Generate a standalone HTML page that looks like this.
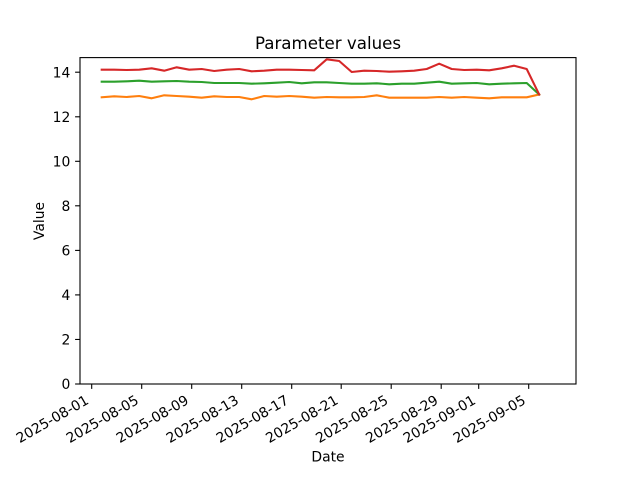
<!DOCTYPE html>
<html>
<head>
<meta charset="utf-8">
<style>
html,body{margin:0;padding:0;background:#fff;}
svg{display:block;}
text{font-family:"DejaVu Sans","Liberation Sans",sans-serif;fill:#000;}
</style>
</head>
<body>
<svg width="640" height="480" viewBox="0 0 640 480" xmlns="http://www.w3.org/2000/svg">
<rect x="0" y="0" width="640" height="480" fill="#fff"/>
<!-- series -->
<g fill="none" stroke-width="2.08" stroke-linejoin="round" stroke-linecap="square">
<polyline stroke="#ff7f0e" points="101.7,97.3 114.2,96.3 126.7,97 139.2,96 151.7,98.3 164.2,95.3 176.7,96 189.2,96.7 201.7,97.7 214.2,96.3 226.7,97 239.2,97 251.7,99.3 264.2,96 276.7,96.7 289.2,96 301.7,96.7 314.2,97.7 326.7,97 339.2,97.3 351.7,97.3 364.2,97 376.7,95.3 389.2,97.7 401.7,97.7 414.2,97.7 426.7,97.7 439.2,97 451.7,97.7 464.2,97 476.7,97.7 489.2,98.3 501.7,97.3 514.2,97.3 526.7,97.3 539.2,94.5"/>
<polyline stroke="#2ca02c" points="101.7,81.7 114.2,81.7 126.7,81.3 139.2,80.7 151.7,81.7 164.2,81.3 176.7,81 189.2,81.7 201.7,82 214.2,83 226.7,83 239.2,83 251.7,83.7 264.2,83.3 276.7,82.7 289.2,82 301.7,83.3 314.2,82.3 326.7,82.3 339.2,83 351.7,83.7 364.2,83.7 376.7,83.3 389.2,84.3 401.7,83.7 414.2,83.7 426.7,82.7 439.2,81.7 451.7,83.7 464.2,83.3 476.7,83 489.2,84.3 501.7,83.7 514.2,83.3 526.7,83 539.2,94.5"/>
<polyline stroke="#d62728" points="101.7,69.7 114.2,69.7 126.7,70 139.2,69.7 151.7,68.3 164.2,70.7 176.7,67.3 189.2,69.7 201.7,69 214.2,71 226.7,69.7 239.2,69 251.7,71.3 264.2,70.7 276.7,69.7 289.2,69.7 301.7,70 314.2,70.3 326.7,59.3 339.2,61 351.7,72 364.2,70.7 376.7,71 389.2,71.7 401.7,71.3 414.2,70.7 426.7,69 439.2,63.7 451.7,69 464.2,70 476.7,69.7 489.2,70.3 501.7,68.3 514.2,65.7 526.7,69 539.2,94.5"/>
</g>
<!-- axes frame -->
<rect x="80" y="57.6" width="496" height="326.4" fill="none" stroke="#000" stroke-width="1.1"/>
<!-- y ticks -->
<g stroke="#000" stroke-width="1.1">
<line x1="75.1" y1="384" x2="80" y2="384"/>
<line x1="75.1" y1="339.46" x2="80" y2="339.46"/>
<line x1="75.1" y1="294.9" x2="80" y2="294.9"/>
<line x1="75.1" y1="250.4" x2="80" y2="250.4"/>
<line x1="75.1" y1="205.8" x2="80" y2="205.8"/>
<line x1="75.1" y1="161.3" x2="80" y2="161.3"/>
<line x1="75.1" y1="116.8" x2="80" y2="116.8"/>
<line x1="75.1" y1="72.2" x2="80" y2="72.2"/>
</g>
<g font-size="13.9" text-anchor="end">
<text x="70.3" y="389.1">0</text>
<text x="70.3" y="344.5">2</text>
<text x="70.3" y="300">4</text>
<text x="70.3" y="255.5">6</text>
<text x="70.3" y="210.9">8</text>
<text x="70.3" y="166.4">10</text>
<text x="70.3" y="121.9">12</text>
<text x="70.3" y="77.3">14</text>
</g>
<!-- x ticks -->
<g stroke="#000" stroke-width="1.1">
<line x1="91.7" y1="384" x2="91.7" y2="388.9"/>
<line x1="141.7" y1="384" x2="141.7" y2="388.9"/>
<line x1="191.7" y1="384" x2="191.7" y2="388.9"/>
<line x1="241.7" y1="384" x2="241.7" y2="388.9"/>
<line x1="291.7" y1="384" x2="291.7" y2="388.9"/>
<line x1="341.2" y1="384" x2="341.2" y2="388.9"/>
<line x1="391.2" y1="384" x2="391.2" y2="388.9"/>
<line x1="441.2" y1="384" x2="441.2" y2="388.9"/>
<line x1="478.7" y1="384" x2="478.7" y2="388.9"/>
<line x1="528.7" y1="384" x2="528.7" y2="388.9"/>
</g>
<g font-size="13.9" text-anchor="end">
<text transform="translate(89.7,403) rotate(-30)">2025-08-01</text>
<text transform="translate(139.7,403) rotate(-30)">2025-08-05</text>
<text transform="translate(189.7,403) rotate(-30)">2025-08-09</text>
<text transform="translate(239.7,403) rotate(-30)">2025-08-13</text>
<text transform="translate(289.7,403) rotate(-30)">2025-08-17</text>
<text transform="translate(339.2,403) rotate(-30)">2025-08-21</text>
<text transform="translate(389.2,403) rotate(-30)">2025-08-25</text>
<text transform="translate(439.2,403) rotate(-30)">2025-08-29</text>
<text transform="translate(476.7,403) rotate(-30)">2025-09-01</text>
<text transform="translate(526.7,403) rotate(-30)">2025-09-05</text>
</g>
<!-- labels -->
<text x="328" y="461.5" font-size="13.9" text-anchor="middle">Date</text>
<text transform="translate(44,221) rotate(-90)" font-size="13.9" text-anchor="middle">Value</text>
<text x="328" y="49" font-size="16.67" text-anchor="middle">Parameter values</text>
</svg>
</body>
</html>
